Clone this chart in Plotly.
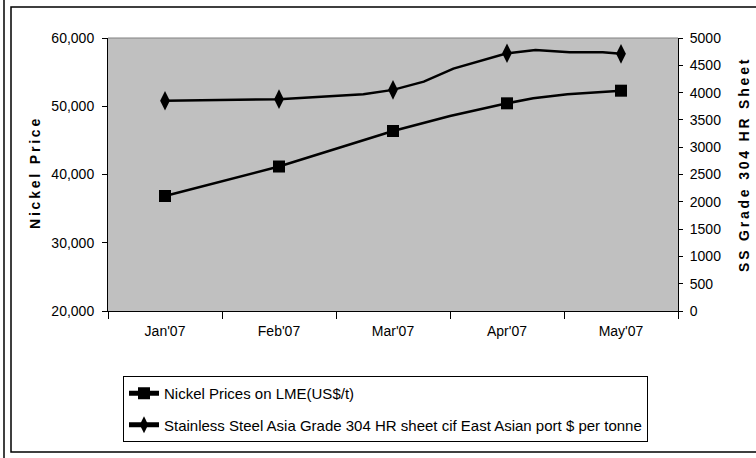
import plotly.graph_objects as go

months = ["Jan'07", "Feb'07", "Mar'07", "Apr'07", "May'07"]
month_pos = [0, 1, 2, 3, 4]

# Nickel prices (left axis); monthly points plus in-between path points
nickel_x = [0, 1, 2, 2.5, 3, 3.23, 3.53, 4]
nickel_y = [36850, 41170, 46370, 48570, 50430, 51165, 51750, 52280]
nickel_is_month = [True, True, True, False, True, False, False, True]

# Stainless steel 304 HR sheet (right axis)
ss_x = [0, 1, 1.74, 2, 2.27, 2.53, 3, 3.25, 3.55, 3.84, 4]
ss_y = [3850, 3880, 3970, 4050, 4200, 4440, 4720, 4780, 4740, 4740, 4710]
ss_is_month = [True, True, False, True, False, False, True, False, False, False, True]

left_ticks = [20000, 30000, 40000, 50000, 60000]
right_ticks = list(range(0, 5001, 500))

W, H = 756, 458
L, R, T, B = 108, 678, 38, 311
FONT = "Liberation Sans, Arial, sans-serif"


def px(xp):
    return (xp - L) / (R - L)


def py(yp):
    return (B - yp) / (B - T)


def spaced(s):
    return "\u2009".join(list(s))


fig = go.Figure()

fig.add_trace(go.Scatter(
    x=nickel_x, y=nickel_y, mode="lines+markers",
    name="Nickel Prices on LME(US$/t)", legendgroup="a",
    line=dict(color="black", width=2.5),
    marker=dict(symbol="square", color="black", opacity=1,
                line=dict(width=0),
                size=[12 if m else 0 for m in nickel_is_month]),
    xaxis="x", yaxis="y",
))
fig.add_trace(go.Scatter(
    x=ss_x, y=ss_y, mode="lines+markers",
    name="Stainless Steel Asia Grade 304 HR sheet cif East Asian port $ per tonne",
    legendgroup="b",
    line=dict(color="black", width=2.5),
    marker=dict(symbol="diamond-tall", color="black", opacity=1,
                line=dict(width=0),
                size=[14 if m else 0 for m in ss_is_month]),
    xaxis="x", yaxis="y2",
))
# dummy trace to anchor the label axis
fig.add_trace(go.Scatter(x=[None], y=[None], xaxis="x2", yaxis="y",
                         showlegend=False, hoverinfo="skip"))

fig.update_layout(
    width=W, height=H,
    margin=dict(l=L, r=W - R, t=T, b=H - B, pad=0),
    paper_bgcolor="white",
    plot_bgcolor="#C0C0C0",
    font=dict(family=FONT, size=14, color="black"),
    showlegend=True,
    legend=dict(
        x=px(123), y=py(376), xanchor="left", yanchor="top",
        bgcolor="white", bordercolor="black", borderwidth=1,
        font=dict(family=FONT, size=15, color="black"),
        itemsizing="constant", tracegroupgap=9,
    ),
    xaxis=dict(
        range=[-0.5, 4.5],
        tickvals=[-0.5, 0.5, 1.5, 2.5, 3.5, 4.5],
        showticklabels=False,
        ticks="outside", ticklen=7, tickcolor="black", tickwidth=1,
        showline=True, linecolor="black", linewidth=1,
        showgrid=False, zeroline=False, fixedrange=True,
    ),
    xaxis2=dict(
        overlaying="x", side="bottom", anchor="y",
        range=[-0.5, 4.5],
        tickvals=month_pos, ticktext=months,
        ticks="", showline=False, showgrid=False, zeroline=False,
        ticklabelstandoff=10,
        tickfont=dict(family=FONT, size=14, color="black"),
    ),
    yaxis=dict(
        range=[20000, 60000], tickvals=left_ticks, tickformat=",",
        ticks="outside", ticklen=5, tickcolor="black",
        showline=True, linecolor="black", linewidth=1,
        showgrid=False, zeroline=False,
        ticklabelstandoff=5,
        tickfont=dict(family=FONT, size=14, color="black"),
    ),
    yaxis2=dict(
        range=[0, 5000], tickvals=right_ticks, tickformat="d",
        overlaying="y", side="right", anchor="x",
        ticks="outside", ticklen=4, tickcolor="black",
        showline=True, linecolor="black", linewidth=1,
        showgrid=False, zeroline=False,
        ticklabelstandoff=4,
        tickfont=dict(family=FONT, size=14, color="black"),
    ),
    annotations=[
        dict(text="<b>" + spaced("Nickel Price") + "</b>", textangle=-90,
             xref="paper", yref="paper", x=px(35), y=py(174),
             xanchor="center", yanchor="middle", showarrow=False,
             font=dict(family=FONT, size=14, color="black")),
        dict(text="<b>" + spaced("SS Grade 304 HR Sheet") + "</b>", textangle=-90,
             xref="paper", yref="paper", x=px(744), y=py(166),
             xanchor="center", yanchor="middle", showarrow=False,
             font=dict(family=FONT, size=14, color="black")),
    ],
    shapes=[
        # plot area top border (gray)
        dict(type="line", xref="paper", yref="paper", x0=0, x1=1, y0=1, y1=1,
             line=dict(color="#808080", width=1)),
        # outer chart frame
        dict(type="rect", xref="paper", yref="paper",
             x0=px(11), x1=px(762), y0=py(452), y1=py(7),
             line=dict(color="black", width=1.5), layer="below"),
        dict(type="line", xref="paper", yref="paper",
             x0=px(4), x1=px(4), y0=py(-2), y1=py(460),
             line=dict(color="black", width=1.5)),
    ],
)

fig.write_html(
    "out.html",
    config={"displayModeBar": False},
    post_script="document.body.style.margin='0';document.body.style.overflow='hidden';",
)
